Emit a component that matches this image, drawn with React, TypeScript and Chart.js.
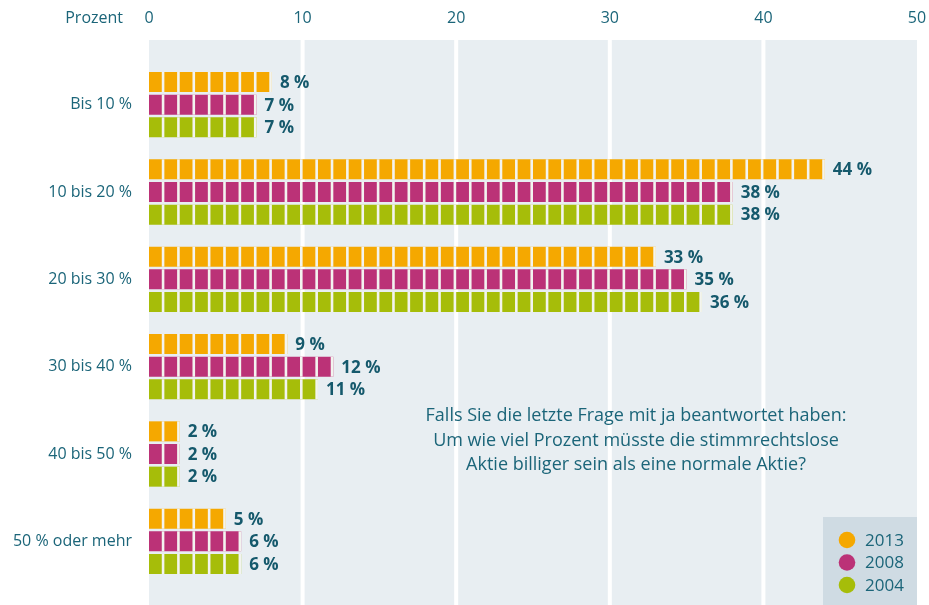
import React, { useEffect, useRef } from 'react';
import { Chart, registerables } from 'chart.js';

Chart.register(...registerables);

const categories = ['Bis 10 %', '10 bis 20 %', '20 bis 30 %', '30 bis 40 %', '40 bis 50 %', '50 % oder mehr'];
const seriesNames = ['2013', '2008', '2004'];
const values2013 = [8, 44, 33, 9, 2, 5];
const values2008 = [7, 38, 35, 12, 2, 6];
const values2004 = [7, 38, 36, 11, 2, 6];
const xTickValues = [0, 10, 20, 30, 40, 50];
const axisTitle = 'Prozent';
const noteLines = [
  'Falls Sie die letzte Frage mit ja beantwortet haben:',
  'Um wie viel Prozent müsste die stimmrechtslose',
  'Aktie billiger sein als eine normale Aktie?',
];
const seriesColors = ['#f5a800', '#bb3277', '#a6bd09'];

const FONT = '"Open Sans", "Noto Sans", sans-serif';
const TEXT = '#1b6579';
const LABEL = '#15596c';
const PLOT_BG = '#e8eef2';
const LEGEND_BG = '#cfdbe3';

const customPlugin = {
  id: 'custom',
  beforeDatasetsDraw(chart: any) {
    const { ctx, chartArea, scales } = chart;
    const top = chartArea.top - 21;
    const bottom = chart.height;
    ctx.save();
    ctx.fillStyle = PLOT_BG;
    ctx.fillRect(chartArea.left, top, chartArea.right - chartArea.left, bottom - top);
    ctx.fillStyle = '#ffffff';
    xTickValues.forEach((v) => {
      if (v <= 0 || v >= 50) return;
      const px = scales.x.getPixelForValue(v);
      ctx.fillRect(px - 2, top, 4, bottom - top);
    });
    ctx.restore();
  },
  afterDatasetsDraw(chart: any) {
    const { ctx, scales } = chart;
    ctx.save();
    chart.data.datasets.forEach((ds: any, di: number) => {
      const meta = chart.getDatasetMeta(di);
      meta.data.forEach((el: any, i: number) => {
        const v = ds.data[i];
        const h = el.height;
        ctx.fillStyle = '#f3f4ef';
        for (let k = 1; k <= v; k++) {
          const px = scales.x.getPixelForValue(k);
          ctx.fillRect(px - 2.6, el.y - h / 2, 2.6, h);
        }
        ctx.fillStyle = LABEL;
        ctx.font = `bold 17px ${FONT}`;
        ctx.textAlign = 'left';
        ctx.textBaseline = 'middle';
        ctx.fillText(`${v} %`, el.x + 8, el.y + 1);
      });
    });
    ctx.restore();
  },
  afterDraw(chart: any) {
    const { ctx } = chart;
    ctx.save();
    ctx.fillStyle = TEXT;
    ctx.font = `16px ${FONT}`;
    ctx.textAlign = 'right';
    ctx.textBaseline = 'middle';
    ctx.fillText(axisTitle, 123, 18);

    ctx.textAlign = 'center';
    ctx.font = `18px ${FONT}`;
    noteLines.forEach((line, i) => {
      ctx.fillText(line, 636, 416 + i * 24.5);
    });

    // legend
    ctx.fillStyle = LEGEND_BG;
    ctx.fillRect(823, 517, 94, chart.height - 517);
    ctx.font = `17px ${FONT}`;
    seriesNames.forEach((name, i) => {
      const cy = 540 + i * 22.5;
      ctx.fillStyle = seriesColors[i];
      ctx.beginPath();
      ctx.arc(847, cy, 8.3, 0, Math.PI * 2);
      ctx.fill();
      ctx.fillStyle = TEXT;
      ctx.textAlign = 'left';
      ctx.fillText(name, 865, cy + 1);
    });
    ctx.restore();
  },
};

export default function App() {
  const canvasRef = useRef<HTMLCanvasElement>(null);

  useEffect(() => {
    const canvas = canvasRef.current;
    if (!canvas) return;
    const values = [values2013, values2008, values2004];
    const chart = new Chart(canvas, {
      type: 'bar',
      data: {
        labels: categories,
        datasets: seriesNames.map((name, i) => ({
          label: name,
          data: values[i],
          backgroundColor: seriesColors[i],
          borderWidth: 0,
          barPercentage: 0.885,
          categoryPercentage: 0.778,
        })),
      },
      options: {
        indexAxis: 'y',
        responsive: false,
        animation: false,
        devicePixelRatio: 1,
        layout: { padding: { top: 0, left: 0, right: 12, bottom: 20 } },
        plugins: {
          legend: { display: false },
          tooltip: { enabled: false },
        },
        scales: {
          x: {
            position: 'top',
            min: 0,
            max: 50,
            grid: { display: false, drawTicks: false },
            border: { display: false },
            ticks: {
              stepSize: 10,
              color: TEXT,
              font: { family: FONT, size: 16 },
              padding: 33,
              maxRotation: 0,
            },
            afterFit(scale: any) {
              scale.height = 61;
              scale.paddingLeft = 0;
              scale.paddingRight = 0;
            },
          },
          y: {
            grid: { display: false, drawTicks: false },
            border: { display: false },
            ticks: {
              color: TEXT,
              font: { family: FONT, size: 16 },
              padding: 17,
            },
            afterFit(scale: any) {
              scale.width = 149;
              scale.paddingTop = 0;
              scale.paddingBottom = 0;
            },
          },
        },
      },
      plugins: [customPlugin],
    } as any);
    return () => chart.destroy();
  }, []);

  return (
    <div style={{ position: 'absolute', left: 0, top: 0, width: 929, height: 605, background: '#fff' }}>
      <canvas ref={canvasRef} width={929} height={605} style={{ display: 'block' }} />
    </div>
  );
}
